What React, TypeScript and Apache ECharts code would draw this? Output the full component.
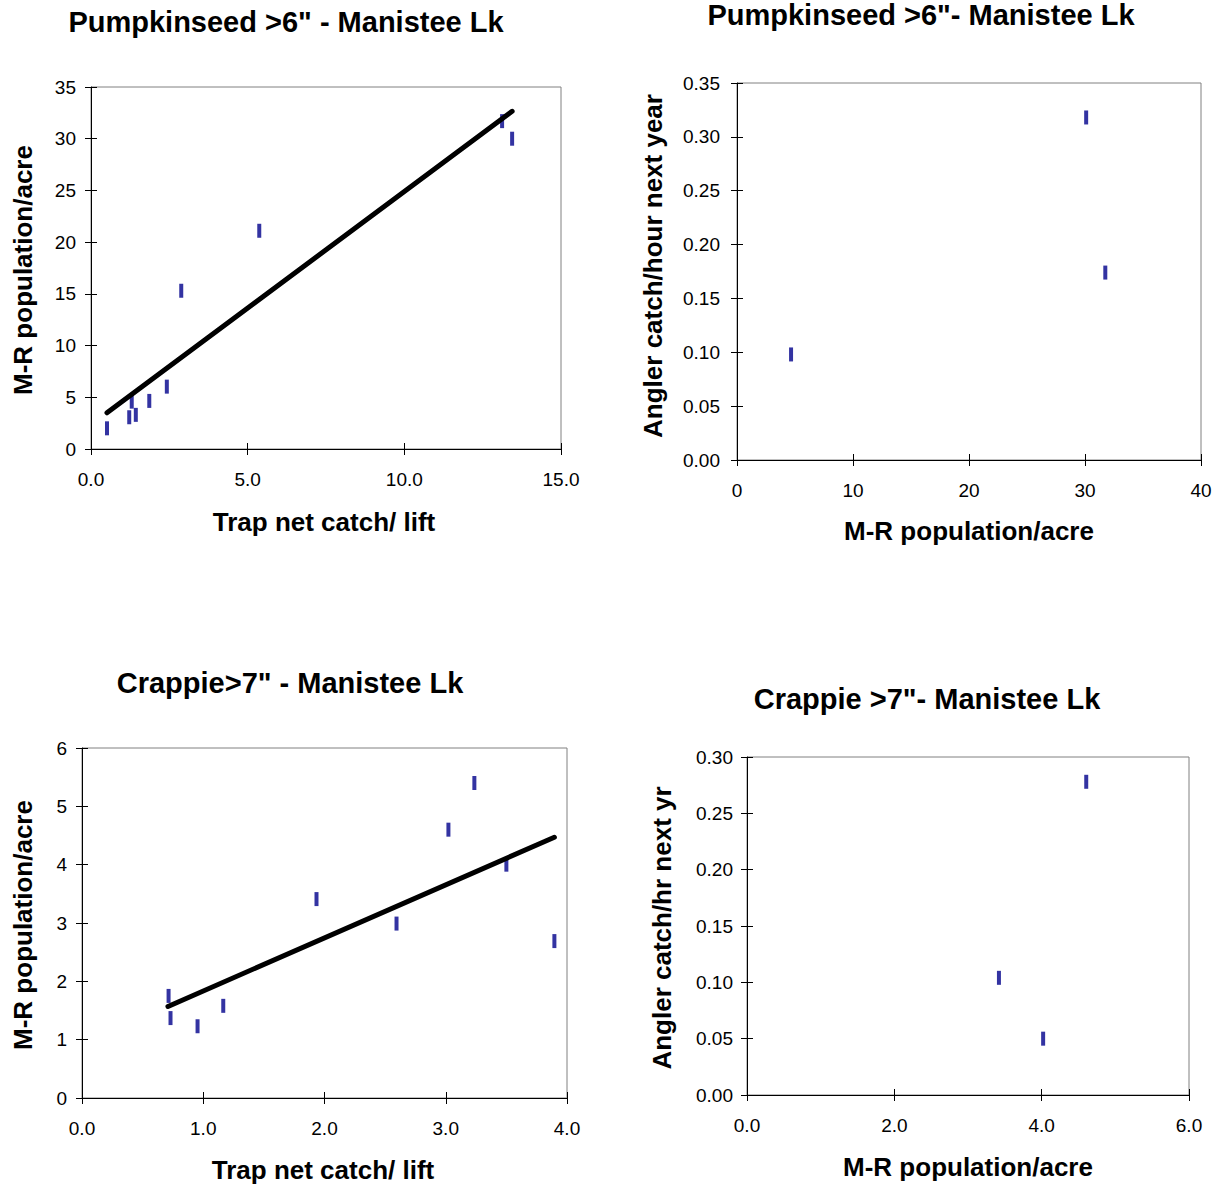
import React, { useEffect, useRef } from "react";
import * as echarts from "echarts";

// Panel 1: Pumpkinseed trap net vs M-R
const p1X = [0.51, 1.22, 1.43, 1.30, 1.86, 2.42, 2.88, 5.37, 13.12, 13.44];
const p1Y = [2.0, 3.07, 3.3, 4.58, 4.65, 6.03, 15.3, 21.1, 31.7, 30.0];
const p1TrendX = [0.51, 13.44];
const p1TrendY = [3.5, 32.65];
// Panel 2: Pumpkinseed M-R vs angler catch
const p2X = [4.66, 30.1, 31.75];
const p2Y = [0.098, 0.318, 0.174];
// Panel 3: Crappie trap net vs M-R
const p3X = [0.714, 0.730, 0.953, 1.165, 1.934, 2.594, 3.022, 3.236, 3.50, 3.896];
const p3Y = [1.75, 1.37, 1.23, 1.58, 3.41, 2.99, 4.60, 5.40, 4.0, 2.69];
const p3TrendX = [0.709, 3.896];
const p3TrendY = [1.57, 4.47];
// Panel 4: Crappie M-R vs angler catch
const p4X = [3.42, 4.02, 4.605];
const p4Y = [0.104, 0.050, 0.278];

const titles = [
  'Pumpkinseed >6" - Manistee Lk',
  'Pumpkinseed >6"- Manistee Lk',
  'Crappie>7" - Manistee Lk',
  'Crappie >7"- Manistee Lk',
];
const xNames = ["Trap net catch/ lift", "M-R population/acre", "Trap net catch/ lift", "M-R population/acre"];
const yNames = ["M-R population/acre", "Angler catch/hour next year", "M-R population/acre", "Angler catch/hr next yr"];

const FONT = "'Liberation Sans', Arial, sans-serif";

type Panel = {
  grid: { left: number; top: number; width: number; height: number };
  xMin: number; xMax: number; xInt: number; xDec: number;
  yMin: number; yMax: number; yInt: number; yDec: number;
  yLabelMargin: number;
  xs: number[]; ys: number[];
  tx?: number[]; ty?: number[];
  title: [number, number];
  xName: [number, number];
  yName: [number, number];
};

const panels: Panel[] = [
  {
    grid: { left: 91, top: 87, width: 470, height: 362 },
    xMin: 0, xMax: 15, xInt: 5, xDec: 1, yMin: 0, yMax: 35, yInt: 5, yDec: 0, yLabelMargin: 15,
    xs: p1X, ys: p1Y, tx: p1TrendX, ty: p1TrendY,
    title: [286, 22], xName: [324, 522], yName: [23, 270],
  },
  {
    grid: { left: 737, top: 83, width: 464, height: 377 },
    xMin: 0, xMax: 40, xInt: 10, xDec: 0, yMin: 0, yMax: 0.35, yInt: 0.05, yDec: 2, yLabelMargin: 17,
    xs: p2X, ys: p2Y,
    title: [921, 15], xName: [969, 531], yName: [653, 266],
  },
  {
    grid: { left: 82, top: 748, width: 485, height: 350 },
    xMin: 0, xMax: 4, xInt: 1, xDec: 1, yMin: 0, yMax: 6, yInt: 1, yDec: 0, yLabelMargin: 15,
    xs: p3X, ys: p3Y, tx: p3TrendX, ty: p3TrendY,
    title: [290, 683], xName: [323, 1170], yName: [23, 925],
  },
  {
    grid: { left: 747, top: 757, width: 442, height: 338 },
    xMin: 0, xMax: 6, xInt: 2, xDec: 1, yMin: 0, yMax: 0.3, yInt: 0.05, yDec: 2, yLabelMargin: 14,
    xs: p4X, ys: p4Y,
    title: [927, 699], xName: [968, 1167], yName: [662, 928],
  },
];

export default function App() {
  const ref = useRef<HTMLDivElement>(null);
  useEffect(() => {
    document.body.style.margin = "0";
    if (!ref.current) return;
    const chart = echarts.init(ref.current, undefined, { renderer: "svg" });

    const grids: any[] = [];
    const xAxes: any[] = [];
    const yAxes: any[] = [];
    const series: any[] = [];
    const graphics: any[] = [];

    panels.forEach((p, i) => {
      grids.push({
        ...p.grid,
        show: true,
        borderColor: "#808080",
        borderWidth: 1,
        backgroundColor: "transparent",
      });
      const xi = xAxes.length;
      const yi = yAxes.length;
      const xBase = {
        type: "value",
        gridIndex: i,
        min: p.xMin,
        max: p.xMax,
        interval: p.xInt,
        position: "bottom",
        splitLine: { show: false },
      };
      const yBase = {
        type: "value",
        gridIndex: i,
        min: p.yMin,
        max: p.yMax,
        interval: p.yInt,
        position: "left",
        splitLine: { show: false },
      };
      xAxes.push({
        ...xBase,
        axisLine: { show: true, onZero: false, lineStyle: { color: "#000", width: 1 } },
        axisTick: { show: true, inside: false, length: 6, lineStyle: { color: "#000" } },
        axisLabel: {
          color: "#000",
          fontFamily: FONT,
          fontSize: 19,
          margin: 21,
          formatter: (v: number) => v.toFixed(p.xDec),
        },
      });
      xAxes.push({
        ...xBase,
        axisLine: { show: false },
        axisTick: { show: true, inside: true, length: 6, lineStyle: { color: "#000" } },
        axisLabel: { show: false },
      });
      yAxes.push({
        ...yBase,
        axisLine: { show: true, onZero: false, lineStyle: { color: "#000", width: 1 } },
        axisTick: { show: true, inside: false, length: 6, lineStyle: { color: "#000" } },
        axisLabel: {
          color: "#000",
          fontFamily: FONT,
          fontSize: 19,
          margin: p.yLabelMargin,
          formatter: (v: number) => v.toFixed(p.yDec),
        },
      });
      yAxes.push({
        ...yBase,
        axisLine: { show: false },
        axisTick: { show: true, inside: true, length: 6, lineStyle: { color: "#000" } },
        axisLabel: { show: false },
      });

      series.push({
        type: "scatter",
        xAxisIndex: xi,
        yAxisIndex: yi,
        symbol: "rect",
        symbolSize: [4, 14],
        itemStyle: { color: "#00008B" },
        data: p.xs.map((x, k) => [x, p.ys[k]]),
        z: 3,
      });
      if (p.tx && p.ty) {
        series.push({
          type: "line",
          xAxisIndex: xi,
          yAxisIndex: yi,
          symbol: "none",
          lineStyle: { color: "#000", width: 5, cap: "round" },
          data: p.tx.map((x, k) => [x, p.ty![k]]),
          z: 4,
        });
      }

      graphics.push({
        type: "text",
        x: p.title[0],
        y: p.title[1],
        style: {
          text: titles[i],
          font: `bold 29px ${FONT}`,
          fill: "#000",
          align: "center",
          verticalAlign: "middle",
        },
      });
      graphics.push({
        type: "text",
        x: p.xName[0],
        y: p.xName[1],
        style: {
          text: xNames[i],
          font: `bold 26px ${FONT}`,
          fill: "#000",
          align: "center",
          verticalAlign: "middle",
        },
      });
      graphics.push({
        type: "text",
        x: p.yName[0],
        y: p.yName[1],
        rotation: Math.PI / 2,
        style: {
          text: yNames[i],
          font: `bold 26px ${FONT}`,
          fill: "#000",
          align: "center",
          verticalAlign: "middle",
        },
      });
    });

    chart.setOption({
      animation: false,
      backgroundColor: "#fff",
      grid: grids,
      xAxis: xAxes,
      yAxis: yAxes,
      series,
      graphic: graphics,
    });
    return () => chart.dispose();
  }, []);
  return <div ref={ref} style={{ width: 1218, height: 1188 }} />;
}
